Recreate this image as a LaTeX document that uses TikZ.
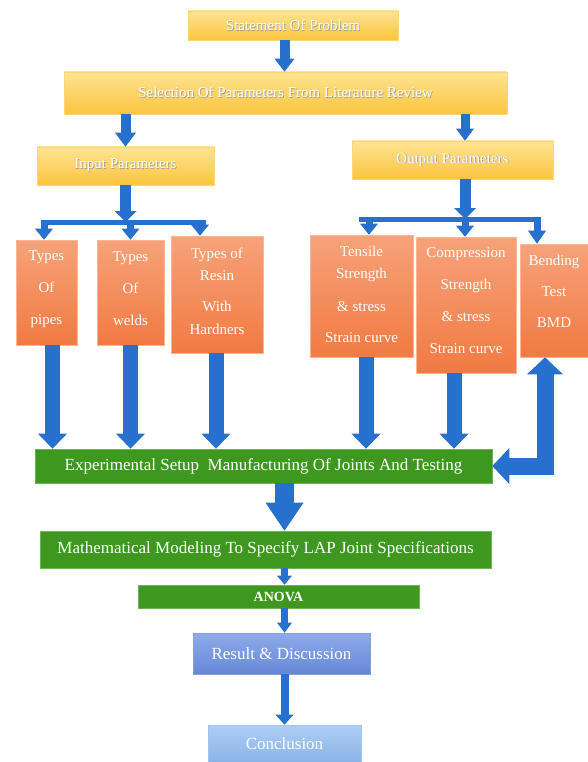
\documentclass[tikz,border=0pt]{standalone}
\usepackage{fontspec}
\setmainfont{Liberation Serif}
\usetikzlibrary{arrows.meta}

\definecolor{arrowblue}{RGB}{40,112,205}
\definecolor{ylwtop}{RGB}{255,228,146}
\definecolor{ylwbot}{RGB}{250,196,62}
\definecolor{orgtop}{RGB}{247,162,122}
\definecolor{orgbot}{RGB}{241,122,66}
\definecolor{grn}{RGB}{62,152,32}
\definecolor{restop}{RGB}{142,170,234}
\definecolor{resbot}{RGB}{102,136,214}
\definecolor{contop}{RGB}{174,206,244}
\definecolor{conbot}{RGB}{138,180,232}

\newcommand{\shadowtxt}[1]{\leavevmode\rlap{\kern0.7pt\raisebox{-0.7pt}{\color{black!40}#1}}#1}

\tikzset{
  ylwbox/.style={top color=ylwtop, bottom color=ylwbot, draw=ylwbot!70!white, line width=0.6pt,
    text=white, inner sep=0pt, font=\fontsize{15}{18}\selectfont},
  orgbox/.style={top color=orgtop, bottom color=orgbot, draw=orgtop!80!white, line width=0.6pt,
    text=white, inner sep=0pt, align=center},
  grnbox/.style={fill=grn, draw=grn!75!white, line width=0.6pt, text=white, inner sep=0pt,
    font=\fontsize{17}{20}\selectfont},
  resbox/.style={top color=restop, bottom color=resbot, draw=resbot!80!white, line width=0.6pt,
    text=white, inner sep=0pt, font=\fontsize{17}{20}\selectfont},
  conbox/.style={top color=contop, bottom color=conbot, draw=conbot!80!white, line width=0.6pt,
    text=white, inner sep=0pt, font=\fontsize{17}{20}\selectfont},
  flow/.style n args={3}{arrowblue, line width=#1, -{Triangle[width=#2,length=#3,line width=0pt]}},
  bar/.style={arrowblue, line width=5pt},
  flowbend/.style={arrowblue, line width=17pt, line join=miter,
    {Triangle[width=36pt,length=17pt,line width=0pt]}-{Triangle[width=36pt,length=17pt,line width=0pt]}}
}

\begin{document}
\begin{tikzpicture}[x=1pt,y=-1pt]
		%%%%% START %%%%%
		\useasboundingbox (0,0) rectangle (588,762);

		% problem and parameters
		\node[ylwbox, minimum width=210pt, minimum height=29pt] (stmt) at (293,25.5) {\shadowtxt{Statement Of Problem}};
		\node[ylwbox, minimum width=443pt, minimum height=42pt] (sel) at (285.5,93) {\shadowtxt{Selection Of Parameters From Literature Review}};
		\node[ylwbox, minimum width=177pt, minimum height=38pt] (inp) at (125.5,166) {\shadowtxt{Input Parameters}};
		\node[ylwbox, minimum width=201pt, minimum height=38pt] (outp) at (452.5,160) {\shadowtxt{Output Parameters}};

		% input boxes
		\node[orgbox, minimum width=61pt, minimum height=105pt, text depth=9pt, font=\fontsize{15}{32}\selectfont] (pipes) at (46.5,292.5) {Types\\Of\\pipes};
		\node[orgbox, minimum width=67pt, minimum height=105pt, text depth=8pt, font=\fontsize{15}{32}\selectfont] (welds) at (130.5,292.5) {Types\\Of\\welds};
		\node[orgbox, minimum width=92pt, minimum height=117pt, text depth=7pt, font=\fontsize{15}{31}\selectfont] (resin) at (217,294.5) {Types of\\[-9pt]Resin\\With\\[-8pt]Hardners};

		% output boxes
		\node[orgbox, minimum width=103pt, minimum height=122pt, text depth=4pt, font=\fontsize{15}{31}\selectfont] (tens) at (361.5,296) {Tensile\\[-9pt]Strength\\[2pt]\& stress\\Strain curve};
		\node[orgbox, minimum width=100pt, minimum height=136pt, text depth=9pt, font=\fontsize{15}{32}\selectfont] (comp) at (466,305) {Compression\\Strength\\\& stress\\Strain curve};
		\node[orgbox, minimum width=68pt, minimum height=113pt, text depth=18pt, font=\fontsize{15}{31}\selectfont] (bend) at (554,300.5) {Bending\\Test\\BMD};

		% lower part
		\node[grnbox, minimum width=457pt, minimum height=34pt] (exper) at (263.5,466) {Experimental Setup\ \ Manufacturing Of Joints And Testing};
		\node[grnbox, minimum width=451pt, minimum height=37pt] (math) at (265.5,549.5) {Mathematical Modeling To Specify LAP Joint Specifications};
		\node[grnbox, minimum width=281pt, minimum height=23pt, font=\fontsize{14}{16}\selectfont\bfseries] (anova) at (278.5,596.5) {ANOVA};
		\node[resbox, minimum width=177pt, minimum height=41pt] (result) at (281.5,653.5) {Result \& Discussion};
		\node[conbox, minimum width=153pt, minimum height=37pt] (concl) at (284.5,743.5) {Conclusion};

		% arrows at the top
		\draw[flow={10pt}{20pt}{13pt}] (concl |- stmt.south) -- (concl |- sel.north);
		\draw[flow={10pt}{21pt}{14pt}] (inp |- sel.south) -- (inp.north);
		\draw[flow={9pt}{18pt}{12pt}] ([xshift=12.5pt]outp.north |- sel.south) -- ([xshift=12.5pt]outp.north);

		% branching to the inputs
		\coordinate (inL) at (41,222);
		\coordinate (inR) at (206,222);
		\draw[bar] (inL) -- (inR);
		\draw[flow={11pt}{22pt}{11pt}] (inp.south) -- (inp.south |- inL);
		\draw[flow={7pt}{18pt}{11pt}] ([xshift=-2.5pt]pipes.north |- inL) -- ([xshift=-2.5pt]pipes.north);
		\draw[flow={7pt}{18pt}{11pt}] (welds.north |- inL) -- (welds.north);
		\draw[flow={7pt}{18pt}{11pt}] ([xshift=-17pt]resin.north |- inL) -- ([xshift=-17pt]resin.north);

		% branching to the outputs
		\coordinate (outL) at (359,219);
		\coordinate (outR) at (541,219);
		\draw[bar] (outL) -- (outR);
		\draw[flow={11pt}{22pt}{11pt}] ([xshift=12.5pt]outp.south) -- ([xshift=12.5pt]outp.south |- outL);
		\draw[flow={7pt}{18pt}{11pt}] ([xshift=7.5pt]tens.north |- outL) -- ([xshift=7.5pt]tens.north);
		\draw[flow={7pt}{18pt}{11pt}] ([xshift=-1pt]comp.north |- outL) -- ([xshift=-1pt]comp.north);
		\draw[flow={7pt}{18pt}{13pt}] ([xshift=-17pt]bend.north |- outL) -- ([xshift=-17pt]bend.north);

		% into the experiments
		\draw[flow={15pt}{29pt}{15pt}] ([xshift=6pt]pipes.south) -- ([xshift=6pt]pipes.south |- exper.north);
		\draw[flow={15pt}{29pt}{15pt}] (welds.south) -- (welds.south |- exper.north);
		\draw[flow={15pt}{29pt}{15pt}] ([xshift=-1pt]resin.south) -- ([xshift=-1pt]resin.south |- exper.north);
		\draw[flow={15pt}{29pt}{15pt}] ([xshift=4.5pt]tens.south) -- ([xshift=4.5pt]tens.south |- exper.north);
		\draw[flow={15pt}{29pt}{15pt}] ([xshift=-12pt]comp.south) -- ([xshift=-12pt]comp.south |- exper.north);
		\draw[flowbend] (exper.east) -| ([xshift=-9pt]bend.south);

		% down to the conclusion
		\draw[flow={19pt}{38pt}{28pt}] (concl |- exper.south) -- (concl |- math.north);
		\draw[flow={7pt}{15pt}{9pt}] (concl |- math.south) -- (concl |- anova.north);
		\draw[flow={7pt}{15pt}{10pt}] (concl |- anova.south) -- (concl |- result.north);
		\draw[flow={8pt}{18pt}{10pt}] (concl |- result.south) -- (concl.north);

		%%%%% END %%%%%
\end{tikzpicture}
\end{document}
